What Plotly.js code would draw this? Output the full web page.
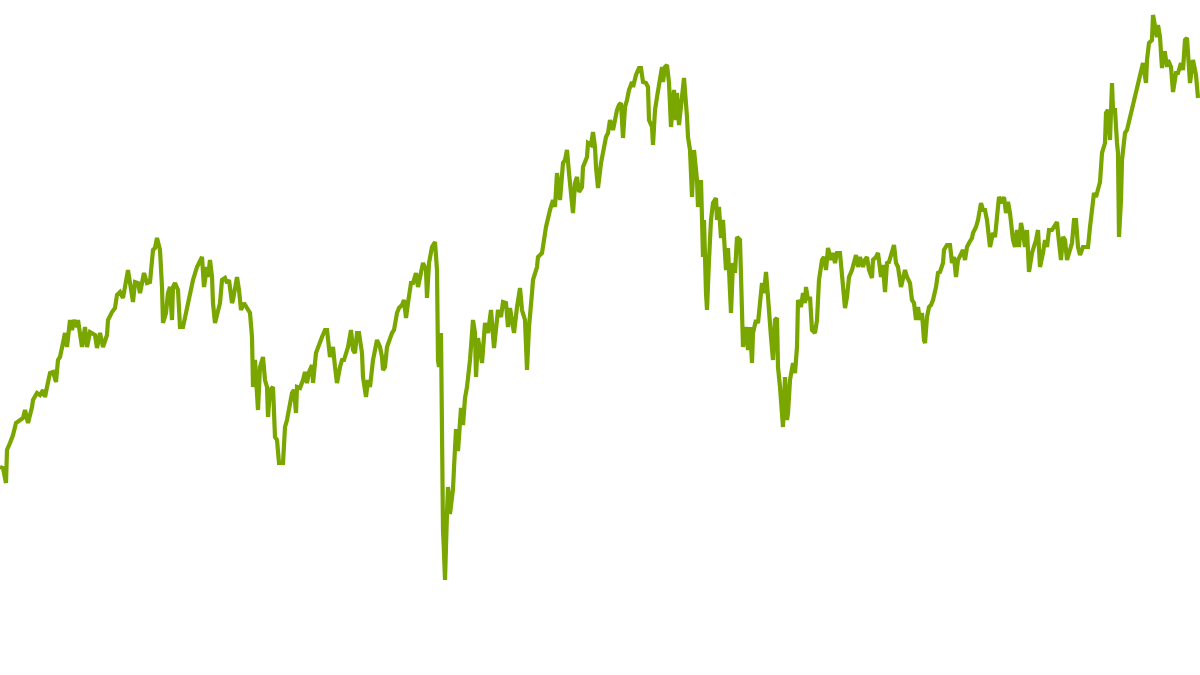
<!DOCTYPE html>
<html>
<head>
<meta charset="utf-8">
<script src="https://cdn.plot.ly/plotly-3.0.1.min.js"></script>
<style>html,body{margin:0;padding:0;background:#fff;}#chart{width:1200px;height:675px;}</style>
</head>
<body>
<div id="chart"></div>
<script>
// Trading-day index and index level, in segments
const days1 = [0,3,6,7,10,13,16,20,23,25,28,32,33,37,40,43,45,47,50,53,56,58,60,63,65,67,70,72,74,77,78,82,85,87,90,95,97,100,103,107,108,112,115,117,120,123,125,128,130,133,135,138,140,144,147,150,153,155,157,160,162,163,166,168,170,172,173,175,178,180,183,187,189,192,193,197,200];
const level1 = [208,207,192,225,232,240,252,255,257,265,252,268,275,282,280,285,278,288,302,303,293,315,318,332,342,328,355,345,355,348,355,328,348,328,343,340,327,342,328,340,355,363,367,380,383,377,387,405,392,373,393,392,382,402,392,393,425,427,437,425,388,352,362,382,388,355,388,392,385,348,348,368,375,388,395,408,415];

const days2 = [202,204,207,208,210,212,213,215,217,220,222,225,227,229,232,233,237,239,241,244,247,250,252,253,255,257,258,260,262,263,265,267,268,270,273,274,275,277,279,283,285,287,289,292,294,296,297,300,303,305,307,309,312,313,316,318,322,325,327,330,333,335,337,340,342,344,347,348,351,353,355,357,359,362,363,366,368,370,373,375,377,380,382,383,385,387,389,392,394,397,399,402,404,406,408,411,413,416,418,421,423,426,427,429,432,435,437,438,439,441,442,443,444,445,447,448,450,453,454,456,458,461,463];
const level2 = [418,388,408,398,415,398,372,352,362,372,395,397,392,395,372,375,398,385,365,372,367,362,338,288,315,288,265,308,315,318,295,288,258,285,288,248,238,235,212,212,248,255,268,282,285,262,288,287,295,303,292,303,310,292,322,328,338,345,345,318,328,308,292,308,315,315,325,328,345,325,322,342,342,322,298,278,295,288,315,328,335,328,318,305,308,328,335,342,345,362,367,370,375,357,372,392,392,402,388,405,412,405,377,412,428,433,405,315,308,342,225,145,122,95,162,188,161,186,207,246,224,267,250];

const days3 = [465,467,470,473,475,476,478,482,485,488,491,494,498,501,503,506,508,510,512,514,517,520,522,525,527,529,532,533,537,538,542,544,546,550,553,555,557,560,563,565,567,569,571,573,575,577,579,582,583,587,588,591,593,595,596,598,601,603,606,608,610,613,615,617,619];
const level3 = [277,288,315,355,342,298,337,312,352,342,365,327,365,358,373,372,348,367,355,342,368,387,365,355,305,348,382,395,408,418,422,435,448,465,475,468,502,475,512,515,525,502,478,462,492,498,483,488,508,518,532,530,543,528,508,487,512,525,538,542,555,545,558,565,570];

const days4 = [621,623,625,627,629,632,633,636,639,641,643,646,648,649,652,653,655,657,659,662,663,665,667,669,671,673,674,676,677,679,682,684,687,688];
const level4 = [572,537,568,575,585,593,588,600,607,607,593,592,588,555,548,530,565,578,592,608,593,608,610,592,548,575,585,555,582,550,575,597,558,538];

const days5 = [690,692,694,697,698,701,703,704,706,707,709,711,713,716,717,719,721,723,726,728,731,733,735,737,740,742,743,746,748,750,752,753,756,758,760,762,764,766,768,769,771,773,775,777,778,780,782,783,785,787,788,790,793,795,797,798,801,803,805,806,808,810,812,815,817,819,822,824,826,828,831,833,835,837,840,842,843,845,847,849,852,854,856,858,860,863,865,867,869,872,873,876,878,881,883,885,887,889,892,894,896,898,901,903,905,907,910,912,914,916,918,920,922,924,925,927,929,931,933,936,938];
const level5 = [525,478,525,495,468,495,418,455,382,365,415,455,472,477,455,468,437,455,405,427,362,412,402,438,435,368,328,348,325,348,312,342,355,352,378,392,382,403,378,362,338,315,355,357,308,288,262,248,298,255,262,295,312,302,328,375,368,382,372,388,375,378,345,342,355,395,415,418,405,427,415,422,412,422,422,402,385,367,378,398,405,412,420,408,418,408,415,418,405,397,415,418,422,398,410,383,412,413,423,430,412,408,388,395,405,398,392,375,372,355,368,355,362,335,332,358,368,370,375,388,402];

const days6 = [940,943,944,947,950,952,954,956,958,961,963,965,967,969,972,973,976,978,981,983,985,987,990,993,995,997,999,1002,1004,1006,1008,1010,1012,1013,1015,1017,1019,1021,1023,1025,1027,1029,1032,1034,1036,1038,1040,1043,1045,1047,1049,1052,1054,1057,1058,1061,1063,1065,1067,1069,1072,1074,1076,1078,1080,1083,1085,1087,1088,1090,1092,1094,1096,1098,1100,1102,1103,1105,1106,1108,1110,1112,1113,1115,1117,1118,1119,1121,1122,1123,1125,1127,1143,1146,1147,1149,1152,1153,1155,1157,1158,1160,1162,1163,1165,1167,1168,1171,1173,1176,1178,1181,1183,1185,1187,1190,1193,1196,1198];
const level6 = [403,412,425,430,430,412,418,398,415,422,425,415,428,432,437,442,448,455,472,465,465,455,428,442,438,458,478,472,478,462,473,462,442,435,428,445,428,452,442,428,445,403,422,428,435,445,408,422,435,428,445,445,448,453,442,415,438,435,415,422,432,455,455,428,420,428,428,427,428,448,468,482,478,488,493,522,525,532,562,565,535,592,565,565,532,522,438,475,515,522,542,545,612,592,615,632,635,660,648,638,650,638,607,622,622,608,615,608,583,602,602,612,605,635,637,592,615,600,577];

const days = [].concat(days1, days2, days3, days4, days5, days6);
const level = [].concat(level1, level2, level3, level4, level5, level6);

const trace = {
  x: days,
  y: level,
  type: 'scatter',
  mode: 'lines',
  line: {color: '#7aa600', width: 4.2, shape: 'linear'},
  hoverinfo: 'skip'
};

const layout = {
  width: 1200,
  height: 675,
  margin: {l: 0, r: 0, t: 0, b: 0, pad: 0},
  paper_bgcolor: '#ffffff',
  plot_bgcolor: '#ffffff',
  showlegend: false,
  xaxis: {range: [0, 1200], visible: false, showgrid: false, zeroline: false, fixedrange: true},
  yaxis: {range: [0, 675], visible: false, showgrid: false, zeroline: false, fixedrange: true}
};

Plotly.newPlot('chart', [trace], layout, {displayModeBar: false, staticPlot: true});
</script>
</body>
</html>
